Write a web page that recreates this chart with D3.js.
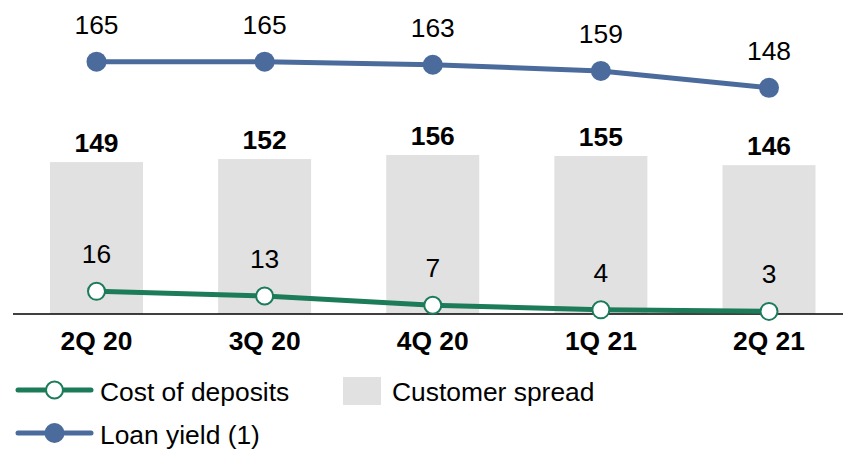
<!DOCTYPE html>
<html lang="en">
<head>
    <meta charset="UTF-8">
    <title>Customer spread, loan yield and cost of deposits</title>
    <script src="https://d3js.org/d3.v7.min.js"></script>
    <style>
        body { margin: 0; background: #fff; }
        svg { font-family: "Liberation Sans", Arial, sans-serif; display: block; }
    </style>
</head>
<body>
    <div id="chart"></div>
    <script>
        const quarters = ["2Q 20", "3Q 20", "4Q 20", "1Q 21", "2Q 21"];
        const customerSpread = [149, 152, 156, 155, 146];
        const loanYield = [165, 165, 163, 159, 148];
        const costOfDeposits = [16, 13, 7, 4, 3];

        const width = 843, height = 449;
        const blue = "#4a6b9c", green = "#1c7b58", grey = "#e1e1e1";
        const fontSize = 26.4;

        const svg = d3.select("#chart").append("svg")
            .attr("width", width)
            .attr("height", height);

        const x = d3.scalePoint().domain(quarters).range([96.5, 769]);
        const yBar = d3.scaleLinear().domain([0, 308]).range([314, 0]);
        const yLine = d3.scaleLinear().domain([0, 205]).range([316, 0]);
        const barWidth = 93;

        // bars
        svg.selectAll("rect.bar")
            .data(customerSpread)
            .join("rect")
            .attr("class", "bar")
            .attr("x", (d, i) => x(quarters[i]) - barWidth / 2)
            .attr("y", d => yBar(d))
            .attr("width", barWidth)
            .attr("height", d => yBar(0) - yBar(d))
            .attr("fill", grey);

        svg.selectAll("text.barlabel")
            .data(customerSpread)
            .join("text")
            .attr("class", "barlabel")
            .attr("x", (d, i) => x(quarters[i]))
            .attr("y", d => yBar(d) - 10)
            .attr("text-anchor", "middle")
            .attr("font-size", fontSize)
            .attr("font-weight", "bold")
            .text(d => d);

        // baseline
        svg.append("line")
            .attr("x1", 13).attr("x2", width)
            .attr("y1", 314).attr("y2", 314)
            .attr("stroke", "#000")
            .attr("stroke-width", 1.5);

        // x labels
        svg.selectAll("text.xlabel")
            .data(quarters)
            .join("text")
            .attr("class", "xlabel")
            .attr("x", d => x(d))
            .attr("y", 350)
            .attr("text-anchor", "middle")
            .attr("font-size", fontSize)
            .attr("font-weight", "bold")
            .text(d => d);

        function drawSeries(values, color, filled) {
            const line = d3.line()
                .x((d, i) => x(quarters[i]))
                .y(d => yLine(d));
            svg.append("path")
                .datum(values)
                .attr("d", line)
                .attr("fill", "none")
                .attr("stroke", color)
                .attr("stroke-width", 5);
            svg.append("g").selectAll("circle")
                .data(values)
                .join("circle")
                .attr("cx", (d, i) => x(quarters[i]))
                .attr("cy", d => yLine(d))
                .attr("r", filled ? 10 : 8.5)
                .attr("fill", filled ? color : "#fff")
                .attr("stroke", color)
                .attr("stroke-width", filled ? 0 : 2);
            svg.append("g").selectAll("text")
                .data(values)
                .join("text")
                .attr("x", (d, i) => x(quarters[i]))
                .attr("y", d => yLine(d) - 28)
                .attr("text-anchor", "middle")
                .attr("font-size", fontSize)
                .text(d => d);
        }

        drawSeries(loanYield, blue, true);
        drawSeries(costOfDeposits, green, false);

        // legend
        const legend = svg.append("g");
        const legendItems = [
            { label: "Cost of deposits", color: green, filled: false, y: 390 },
            { label: "Loan yield (1)", color: blue, filled: true, y: 433 }
        ];
        legendItems.forEach(item => {
            legend.append("line")
                .attr("x1", 18).attr("x2", 91)
                .attr("y1", item.y).attr("y2", item.y)
                .attr("stroke", item.color)
                .attr("stroke-width", 5)
                .attr("stroke-linecap", "round");
            legend.append("circle")
                .attr("cx", 54.5).attr("cy", item.y)
                .attr("r", item.filled ? 10 : 8.5)
                .attr("fill", item.filled ? item.color : "#fff")
                .attr("stroke", item.color)
                .attr("stroke-width", item.filled ? 0 : 2);
            legend.append("text")
                .attr("x", 100)
                .attr("y", item.y + 11)
                .attr("font-size", fontSize)
                .text(item.label);
        });
        legend.append("rect")
            .attr("x", 343).attr("y", 377)
            .attr("width", 38).attr("height", 28)
            .attr("fill", grey);
        legend.append("text")
            .attr("x", 392)
            .attr("y", 401)
            .attr("font-size", fontSize)
            .text("Customer spread");
    </script>
</body>
</html>
